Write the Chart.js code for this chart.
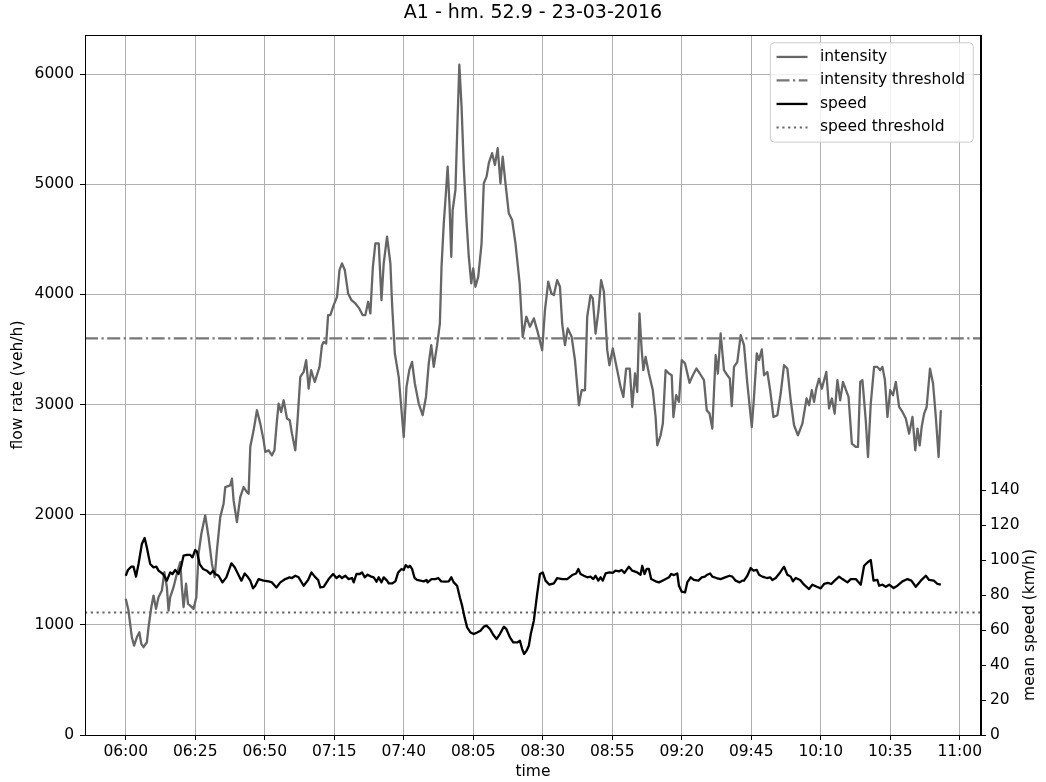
<!DOCTYPE html>
<html>
<head>
<meta charset="utf-8">
<script src="https://cdn.jsdelivr.net/npm/chart.js@4.4.1/dist/chart.umd.min.js"></script>
<style>
  html, body { margin: 0; padding: 0; background: #ffffff; }
  #wrap { width: 1046px; height: 782px; }
</style>
</head>
<body>
<div id="wrap"><canvas id="chart" width="1046" height="782"></canvas></div>
<script>
// ---- data: A1 hm. 52.9, 23-03-2016 (minutes after 06:00) ----
const chartTitle = 'A1 - hm. 52.9 - 23-03-2016';
const xTickLabels = ['06:00', '06:25', '06:50', '07:15', '07:40', '08:05', '08:30',
                     '08:55', '09:20', '09:45', '10:10', '10:35', '11:00'];
const flowTicks = [0, 1000, 2000, 3000, 4000, 5000, 6000];
const speedTicks = [0, 20, 40, 60, 80, 100, 120, 140];

const intensityMinutes = [
  0, 1, 2.2, 3, 4, 4.9, 5.6, 6.4, 7.6, 8.2, 9.2, 10, 10.9, 11.8, 13, 13.9, 14.8, 15.4, 16, 17.2,
  18.4, 19.6, 20.2, 20.8, 21.7, 22.4, 23.2, 24.4, 25.4, 26.2, 27.2, 28.6, 29.8, 31, 32, 32.8, 34,
  35.2, 35.8, 37.6, 38.2, 38.8, 40, 41.2, 42.4, 43.6, 44.2, 44.8, 46, 47.2, 48.4, 49.6, 50.2, 51.4,
  52.6, 53.5, 54.4, 55, 55.9, 56.8, 58, 59, 59.8, 61, 61.8, 62.8, 64, 64.9, 65.8, 66.7, 68, 69.7,
  70.6, 71.2, 72.1, 72.8, 73.6, 74.8, 76, 76.9, 77.8, 78.8, 80, 81.2, 82.6, 84, 85.2, 86.2, 87.2,
  88, 88.9, 89.8, 91, 92, 92.8, 94, 95.2, 95.8, 96.8, 98.2, 99.2, 100, 101, 102, 103, 104, 105.4,
  106.8, 108, 109, 109.9, 110.8, 112, 113, 113.6, 114.4, 115, 115.8, 116.5, 117.1, 117.6, 118.6,
  119.4, 120, 120.8, 121.6, 122.5, 123.4, 124.3, 125, 125.8, 126.8, 128, 128.8, 129.8, 130.6,
  131.8, 132.8, 133.8, 134.8, 135.6, 136.6, 137.8, 139, 140.2, 141.7, 142.8, 144.1, 145.4, 146.8,
  148, 149.8, 150.8, 152, 153.1, 154, 155.2, 156.2, 157, 158, 159, 160.4, 161.6, 163, 164, 165.2,
  166, 167.2, 168, 169, 170, 171, 172, 173.2, 174, 175.2, 176.8, 178, 179, 180, 181.3, 182.2,
  183.2, 184, 184.8, 185.6, 186.2, 187, 188.2, 189.6, 190.6, 191.2, 192.4, 193.2, 194.2, 195.4,
  196.4, 197, 198, 199, 200, 201.2, 202.8, 204, 205.3, 206.5, 208, 209, 210, 211, 212.2, 213, 214,
  215.2, 216.4, 217.3, 218, 218.8, 220, 221.2, 222.4, 223.6, 225.2, 226, 227, 227.8, 228.8, 229.6,
  230.8, 231.8, 233, 234.4, 235.6, 236.8, 238, 239.2, 240.4, 241.8, 243.4, 244.9, 245.8, 246.8,
  247.6, 248.4, 249.4, 250.4, 252, 253, 254, 255, 256, 257, 258, 260, 261.2, 262.6, 263.4, 264.2,
  265, 266.2, 267, 268, 269.2, 270.4, 271.4, 272.2, 273.1, 274, 275, 276, 277, 278.2, 279.4,
  280.6, 281.8, 283, 284, 284.8, 285.6, 286.3, 287.2, 288.1, 289.3, 290.4, 291.4, 292.4, 293.2
];
const intensity = [
  1236, 1130, 887, 812, 887, 933, 827, 797, 842, 978, 1160, 1266, 1145, 1251, 1312, 1478, 1342, 1130, 1251, 1342,
  1464, 1569, 1342, 1160, 1373, 1191, 1175, 1145, 1251, 1645, 1827, 1994, 1796, 1555, 1433, 1675, 1978,
  2100, 2251, 2266, 2327, 2130, 1933, 2160, 2251, 2205, 2191, 2615, 2766, 2948, 2827, 2675, 2570, 2585,
  2539, 2585, 2857, 3009, 2933, 3039, 2873, 2857, 2736, 2585, 2857, 3251, 3296, 3403, 3145, 3312, 3205, 3342,
  3539, 3569, 3555, 3812, 3812, 3903, 3978, 4221, 4282, 4221, 4009, 3948, 3918, 3873, 3812, 3812, 3933,
  3827, 4251, 4464, 4464, 3948, 4282, 4524, 4282, 3918, 3464, 3251, 2948, 2705, 3160, 3312, 3387, 3191, 3009,
  2903, 3069, 3373, 3539, 3342, 3539, 3736, 4251, 4645, 4857, 5160, 4796, 4342, 4766, 4948,
  5615, 6085, 5706, 5160, 4706, 4342, 4100, 4236, 4069, 4160, 4464, 5009, 5069, 5191,
  5282, 5175, 5327, 5009, 5251, 5009, 4736, 4675, 4464, 4100, 3615, 3797, 3706, 3782,
  3676, 3494, 3857, 4115, 4009, 3994, 4130, 4069, 3736, 3539, 3691, 3615, 3403, 2994, 3130, 3130,
  3797, 3994, 3964, 3645, 3842, 4130, 4024, 3494, 3357, 3509, 3312, 3160, 3069, 3327, 3327, 2978,
  3282, 3115, 3827, 3494, 3312, 3433, 3282, 3130, 2887, 2630, 2721, 2827, 3312, 3282,
  3267, 2887, 3085, 3024, 3403, 3373, 3197, 3266, 3327, 3282, 3221, 2948, 2918, 2782, 3448, 3282, 3645,
  3312, 3266, 3236, 2985, 3342, 3387, 3630, 3539, 3191, 2796, 3069, 3464, 3403, 3500, 3266,
  3296, 3130, 2887, 2903, 3100, 3357, 3327, 3039, 2812, 2721, 2827, 3055, 2994, 3130,
  3024, 3145, 3236, 3145, 3296, 2964, 3055, 2918, 3221, 3039, 3205, 3069, 2645, 2615, 2615, 3205,
  3221, 2857, 2524, 3009, 3342, 3342, 3312, 3342, 3221, 2887, 3130, 3085, 3205, 2978, 2933,
  2873, 2736, 2887, 2585, 2782, 2630, 2796, 2918, 2978, 3327, 3191, 2887, 2524, 2948
];

const speedMinutes = [
  0, 0.8, 2, 2.8, 3.7, 4.6, 5.8, 6.8, 7.6, 8.8, 10, 11, 11.8, 13.4, 14.8, 16, 16.8, 17.8, 19, 20,
  20.8, 22, 23.2, 24, 25, 25.6, 26.6, 27.8, 29.2, 30.4, 31.4, 32.2, 33.4, 34.8, 36.2, 38, 39.2,
  40.4, 41.6, 42.8, 44, 44.8, 45.8, 46.6, 47.8, 49.6, 51.4, 52.6, 54.2, 55.6, 57.4, 58.9, 59.8,
  61, 62.2, 64, 65.6, 66.8, 68, 69.2, 70, 71.2, 73, 74.6, 75.8, 76.9, 77.8, 79, 80.2, 81.4, 82,
  83, 84.2, 85, 86, 87, 88.3, 89.2, 90.2, 91, 92, 92.8, 94, 94.6, 95.8, 97, 98, 99.2, 100, 100.7,
  101.6, 102.2, 103, 103.9, 104.8, 106, 107.2, 108.2, 108.6, 110, 111.4, 112.4, 113.5, 115,
  116.2, 117.1, 118, 119.2, 120.2, 121, 121.9, 122.8, 124, 125.2, 126.4, 127.6, 128.8, 129.8,
  131, 132.2, 133.4, 134.6, 136, 136.9, 138.2, 139.4, 140.8, 141.8, 142.6, 143.3, 144.2, 145,
  145.7, 146.8, 148, 149, 150, 151, 152.4, 154, 155.2, 157, 158.8, 160.6, 162, 162.8, 163.6,
  164.8, 166, 167.2, 168.2, 169, 170, 170.8, 171.6, 172.6, 174, 175.2, 176.2, 177.4, 178.4,
  179.4, 181, 182.2, 184, 185.2, 185.8, 186.6, 187.4, 188.2, 189, 190.6, 191.8, 193.6, 195.4,
  196.2, 197.2, 198.4, 199, 200, 201.2, 202, 203.2, 204.4, 206, 207.2, 208.3, 209.2, 210.2, 211,
  212.5, 214, 215.6, 217.2, 218.2, 219.4, 220.8, 221.8, 222.4, 223.6, 224.8, 225.8, 227, 227.8,
  229, 230.6, 231.8, 232.6, 233.8, 235.4, 236.8, 238, 239.2, 240, 241, 242.6, 244, 245.8, 247,
  248.6, 250, 251.2, 252.6, 253.8, 255, 256.6, 257.8, 259.6, 260.8, 262.6, 264.4, 265.6, 266.8,
  268, 269, 270.4, 271, 272.2, 273.4, 274.6, 276.2, 277.6, 279.4, 281.2, 282.6, 284.2, 286,
  287.8, 289, 290.7, 292, 293.2
];
const speed = [
  91, 94.3, 96.2, 96.2, 90.5, 97.7, 109.1, 112.6, 107.2, 97.7, 95.8, 96.2, 93.9, 92, 88.2, 92.9, 92, 94.3, 92, 96.7,
  102.5, 102.9, 102.9, 101.5, 105.7, 104.9, 97.7, 94.9, 93.9, 92, 93.9, 92, 91, 87.2, 90.1, 98.1, 95.8,
  92, 88.2, 92.3, 90.1, 88.2, 83.8, 85.3, 89.1, 88.2, 87.8, 87.2, 84.3, 87.2, 89.1, 90.1, 89.7,
  91, 90.1, 85.3, 88.6, 92.9, 90.5, 88.6, 84.3, 84.7, 89.1, 92, 89.7, 91, 89.7, 91, 89.1, 89.7, 87.2,
  92, 92, 92.9, 90.1, 91.6, 90.5, 90.1, 87.6, 90.1, 87.2, 90.1, 88.2, 86.6, 86.6, 87.8, 92.9, 94.9, 94.3, 97.1,
  95.8, 96.7, 94.9, 89.7, 88.6, 88.2, 87.8, 88.6, 87.2, 89.1, 89.1, 89.7, 87.8, 87.6,
  87.8, 90.1, 87.2, 85.3, 78.6, 73.9, 67.2, 61.5, 58.6, 57.7, 58.6, 59.6, 61.9, 62.5,
  60.6, 57.3, 54.9, 57.7, 61.9, 60.6, 55.8, 52.9, 52.9, 53.9, 49.1, 46.3, 48.2, 51,
  57.7, 65.3, 80.6, 92, 92.9, 88.2, 85.9, 86.6, 89.7, 89.1, 89.1, 91.4, 92.3, 94.9, 92,
  91, 90.1, 90.5, 89.1, 91, 88.2, 90.1, 88.2, 92.3, 92.9, 92.6, 93.9, 93.5, 94.3,
  92.6, 96.2, 93.9, 92.9, 91.6, 96.7, 92, 94.9, 94.9, 89.1, 87.8, 87.2, 88.6, 90.1,
  92, 91.4, 92.3, 85.3, 81.9, 81.5, 87.2, 90.1, 88.6, 88.2, 90.1, 90.5, 91.6, 92.3, 90.5,
  89.7, 89.1, 90.1, 91, 90.5, 88.2, 87.2, 88.2, 88.2, 91, 95.4, 93.9, 94.3, 91.6,
  90.5, 89.7, 90.1, 88.6, 89.7, 92.9, 96.2, 91.6, 90.5, 87.8, 89.7, 88.6, 85.9, 83.4, 85.9,
  84.7, 83.8, 86.3, 86.9, 86.3, 88.2, 90.5, 89.1, 87.2, 89.1, 89.1, 85.9, 96.7, 98.6,
  100, 88.2, 88.6, 85.3, 85.9, 84.7, 85.9, 84, 85.3, 87.8, 89.1, 88.2, 84.7, 88.2,
  91, 88.6, 88.2, 86.3, 85.9
];

const intensityThreshold = 3600;   // veh/h
const speedThreshold = 70;         // km/h

// ---- axis ranges ----
const X_MIN = -14.65, X_MAX = 307.65;
const FLOW_MAX = 6355;
const SPEED_MAX = 400;

const FONT = '"DejaVu Sans", "Liberation Sans", sans-serif';
const BASE = 15.5;

function toMinutes(label) {
  const [h, m] = label.split(':').map(Number);
  return h * 60 + m - 360;
}
const pairs = (xs, ys) => xs.map((x, i) => ({ x: x, y: ys[i] }));

Chart.defaults.font.family = FONT;
Chart.defaults.font.size = BASE;
Chart.defaults.color = '#000000';

// frame, titles and the inset legend
const decorations = {
  id: 'decorations',
  afterDraw(chart) {
    const { ctx, chartArea: a } = chart;
    ctx.save();
    // box around the axes
    ctx.strokeStyle = '#000000';
    ctx.lineWidth = 1;
    ctx.strokeRect(Math.round(a.left) + 0.5, Math.round(a.top) + 0.5,
                   Math.round(a.right - a.left) - 1, Math.round(a.bottom - a.top));

    ctx.fillStyle = '#000000';
    ctx.textBaseline = 'middle';
    ctx.textAlign = 'center';
    ctx.font = '19px ' + FONT;
    ctx.fillText(chartTitle, (a.left + a.right) / 2, 13);

    ctx.font = BASE + 'px ' + FONT;
    ctx.fillText('time', (a.left + a.right) / 2, 772);

    ctx.save();
    ctx.translate(18, (a.top + a.bottom) / 2);
    ctx.rotate(-Math.PI / 2);
    ctx.fillText('flow rate (veh/h)', 0, 0);
    ctx.restore();

    ctx.save();
    ctx.translate(1030, 625);
    ctx.rotate(-Math.PI / 2);
    ctx.fillText('mean speed (km/h)', 0, 0);
    ctx.restore();

    // legend
    const sets = chart.data.datasets;
    const pad = 0.4 * BASE, handle = 2.0 * BASE, gap = 0.8 * BASE, rowH = 23.5;
    ctx.font = BASE + 'px ' + FONT;
    const textW = Math.max(...sets.map(d => ctx.measureText(d.label).width));
    const w = pad * 2 + handle + gap + textW + 2;
    const h = pad * 2 + rowH * sets.length - 7;
    const x0 = a.right - 0.5 * BASE - w;
    const y0 = a.top + 0.5 * BASE;
    ctx.beginPath();
    ctx.roundRect(x0, y0, w, h, 4);
    ctx.fillStyle = 'rgba(255,255,255,0.8)';
    ctx.fill();
    ctx.strokeStyle = '#cccccc';
    ctx.lineWidth = 1;
    ctx.stroke();
    sets.forEach((d, i) => {
      const cy = y0 + pad + 8 + i * rowH;
      ctx.beginPath();
      ctx.setLineDash(d.borderDash || []);
      ctx.strokeStyle = d.borderColor;
      ctx.lineWidth = d.borderWidth;
      ctx.moveTo(x0 + pad, cy);
      ctx.lineTo(x0 + pad + handle, cy);
      ctx.stroke();
      ctx.setLineDash([]);
      ctx.fillStyle = '#000000';
      ctx.textAlign = 'left';
      ctx.fillText(d.label, x0 + pad + handle + gap, cy);
    });
    ctx.restore();
  }
};

new Chart(document.getElementById('chart'), {
  type: 'line',
  data: {
    datasets: [
      {
        label: 'intensity',
        data: pairs(intensityMinutes, intensity),
        borderColor: '#666666', borderWidth: 2.3, yAxisID: 'y', order: 3
      },
      {
        label: 'intensity threshold',
        data: [{ x: X_MIN, y: intensityThreshold }, { x: X_MAX, y: intensityThreshold }],
        borderColor: '#777777', borderWidth: 2.3, borderDash: [13, 3.5, 2.2, 3.5], yAxisID: 'y', order: 2
      },
      {
        label: 'speed',
        data: pairs(speedMinutes, speed),
        borderColor: '#000000', borderWidth: 2.3, yAxisID: 'y2', order: 0
      },
      {
        label: 'speed threshold',
        data: [{ x: X_MIN, y: speedThreshold }, { x: X_MAX, y: speedThreshold }],
        borderColor: '#666666', borderWidth: 2, borderDash: [2.2, 3.6], yAxisID: 'y2', order: 1
      }
    ]
  },
  options: {
    responsive: false,
    animation: false,
    devicePixelRatio: 1,
    elements: {
      point: { radius: 0 },
      line: { tension: 0, borderJoinStyle: 'round', fill: false }
    },
    layout: { padding: { top: 35, left: 0, right: 0, bottom: 0 } },
    plugins: { legend: { display: false }, tooltip: { enabled: false } },
    scales: {
      x: {
        type: 'linear', min: X_MIN, max: X_MAX,
        afterBuildTicks: s => { s.ticks = xTickLabels.map(l => ({ value: toMinutes(l) })); },
        afterFit: s => { s.height = 47; },
        ticks: { callback: (v, i) => xTickLabels[i], autoSkip: false, maxRotation: 0, padding: 3 },
        grid: { color: '#b0b0b0', lineWidth: 1, tickColor: '#000000', tickLength: 5 },
        border: { display: true, color: '#000000', width: 1 }
      },
      y: {
        position: 'left', min: 0, max: FLOW_MAX,
        afterBuildTicks: s => { s.ticks = flowTicks.map(v => ({ value: v })); },
        afterFit: s => { s.width = 85; },
        ticks: { callback: v => String(v), padding: 6 },
        grid: { color: '#b0b0b0', lineWidth: 1, tickColor: '#000000', tickLength: 5 },
        border: { display: true, color: '#000000', width: 1 }
      },
      y2: {
        position: 'right', min: 0, max: SPEED_MAX,
        afterBuildTicks: s => { s.ticks = speedTicks.map(v => ({ value: v })); },
        afterFit: s => { s.width = 65; },
        ticks: { callback: v => String(v), padding: 4 },
        grid: { drawOnChartArea: false, tickColor: '#000000', tickLength: 5 },
        border: { display: true, color: '#000000', width: 1 }
      }
    }
  },
  plugins: [decorations]
});
</script>
</body>
</html>
